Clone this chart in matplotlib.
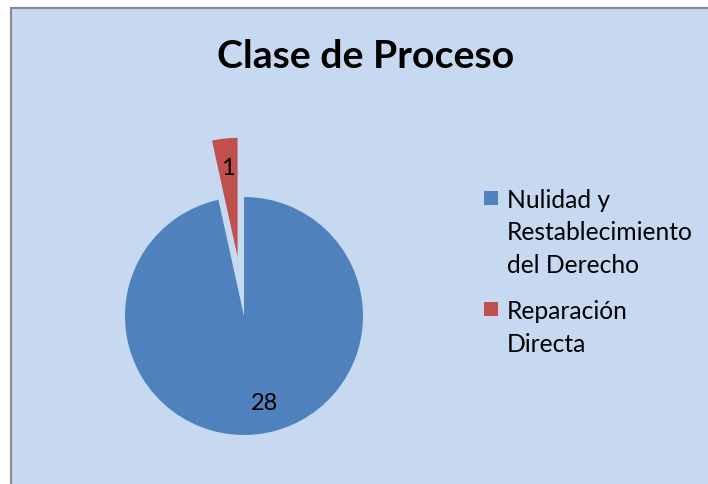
import matplotlib
matplotlib.use('Agg')
import matplotlib.pyplot as plt
from matplotlib.patches import Rectangle

# data
categories = ['Nulidad y\nRestablecimiento\ndel Derecho', 'Reparación\nDirecta']
values = [28, 1]
colors = ['#4F81BD', '#C0504D']
explode = [0, 0.5]
title = 'Clase de Proceso'

plt.rcParams['font.family'] = ['Lato', 'DejaVu Sans']

W, H = 708, 484
fig = plt.figure(figsize=(W / 100, H / 100), dpi=100, facecolor='white')

# chart area background with grey border (left/top visible)
fig.patches.append(Rectangle((11 / W, -0.01), 1.02 - 11 / W, 1.01 - 8 / H,
                             transform=fig.transFigure, facecolor='#C6D9F1',
                             edgecolor='#8C8C8C', linewidth=1.6, zorder=-5))

# pie axes: centre (244, 316) px, radius 119 px
r = 119
cx, cy = 244, H - 316
ax = fig.add_axes([(cx - 2 * r) / W, (cy - 2 * r) / H, 4 * r / W, 4 * r / H])
ax.set_zorder(2)
ax.set_facecolor('none')
start = 90 + 360 * values[1] / sum(values)
wedges, texts = ax.pie(values, colors=colors, explode=explode, startangle=start,
                       labels=[str(v) for v in values], labeldistance=0.75,
                       wedgeprops=dict(edgecolor='none'),
                       textprops=dict(fontsize=17, color='black', ha='center', va='center'))
# excel puts the big label a bit further right
x0, y0 = texts[0].get_position()
texts[0].set_position((x0 + 0.09, y0 + 0.01))
ax.set_xlim(-2, 2)
ax.set_ylim(-2, 2)
ax.set_aspect('equal')
ax.axis('off')

fig.text(366 / W, 1 - 56 / H, title, fontsize=28.3, fontweight='bold',
         ha='center', va='center')

# legend
legend_y = [200, 311]
for lab, col, ly in zip(categories, colors, legend_y):
    fig.patches.append(Rectangle((484 / W, 1 - (ly + 5) / H), 14 / W, 14 / H,
                                 transform=fig.transFigure, facecolor=col,
                                 edgecolor='none'))
    fig.text(507 / W, 1 - (ly - 11) / H, lab, fontsize=17.7, ha='left', va='top',
             linespacing=1.5)

fig.savefig('out.png', dpi=100, facecolor='white')
